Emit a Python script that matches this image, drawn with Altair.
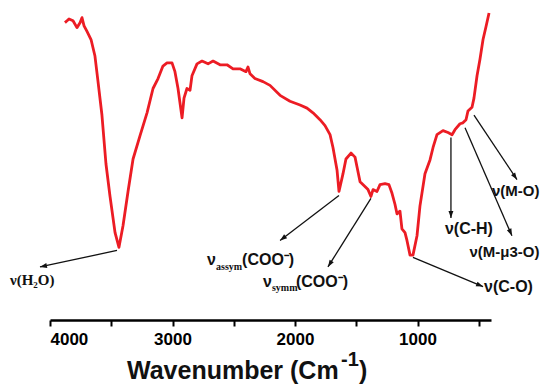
import math
import altair as alt
import pandas as pd

# ---- spectrum ----
wavenumber = [3878, 3861, 3845, 3812, 3780, 3755, 3739, 3722, 3698, 3665, 3633, 3608, 3576, 3543,
              3510, 3469, 3437, 3404, 3363, 3322, 3265, 3208, 3159, 3118, 3078, 3045, 3004, 2980,
              2955, 2922, 2906, 2882, 2857, 2841, 2800, 2759, 2710, 2669, 2612, 2555, 2506, 2449,
              2400, 2384, 2367, 2327, 2261, 2204, 2122, 2041, 1959, 1902, 1853, 1796, 1755, 1714,
              1690, 1657, 1641, 1608, 1584, 1543, 1510, 1494, 1469, 1429, 1404, 1380, 1363, 1331,
              1306, 1265, 1233, 1208, 1184, 1167, 1143, 1127, 1102, 1086, 1061, 1037, 1004, 980,
              939, 898, 873, 841, 792, 751, 718, 694, 653, 629, 604, 588, 555, 539, 514, 490,
              465, 441, 416]
transmittance = [95.3, 95.9, 96.5, 95.9, 93.7, 95.3, 96.9, 94.3, 92.5, 89.9, 84.6, 76.4, 65.7, 50.0,
                 39.6, 28.0, 23.3, 30.2, 41.2, 51.6, 59.1, 66.4, 74.2, 77.4, 81.4, 82.4, 82.4, 79.6,
                 74.2, 64.8, 71.1, 74.2, 73.6, 78.3, 82.1, 83.0, 82.1, 83.0, 81.8, 81.8, 80.5, 80.5,
                 79.6, 81.1, 78.9, 77.4, 76.4, 75.2, 72.0, 70.1, 68.9, 67.9, 66.4, 64.2, 62.3, 59.4,
                 55.3, 48.1, 41.2, 46.9, 51.6, 53.5, 52.2, 49.1, 44.3, 42.8, 41.8, 39.6, 41.8, 41.2,
                 43.4, 43.7, 43.4, 40.6, 37.1, 34.0, 34.9, 29.2, 28.0, 25.5, 20.8, 20.8, 27.0, 36.5,
                 46.9, 51.3, 55.3, 59.4, 60.7, 60.1, 59.4, 61.0, 62.9, 63.2, 64.2, 67.0, 68.2, 71.1,
                 78.3, 83.6, 89.9, 94.0, 98.4]

# ---- axis ----
x_domain = [4000, 400]
tick_values = [4000, 3500, 3000, 2500, 2000, 1500, 1000, 500]

# ---- annotation arrows (start on the band, tip at the label) ----
arrow_x1 = [3453, 1641, 1380, 1037, 727, 612, 539]
arrow_y1 = [22.3, 39.9, 39.0, 20.1, 58.5, 61.6, 65.7]
arrow_x2 = [4082, 2122, 1731, 465, 727, 229, 188]
arrow_y2 = [17.0, 25.5, 17.0, 10.7, 32.7, 27.0, 45.0]

# ---- annotation texts ----
sans_text = ["ν", "(COO⁻)", "ν", "(COO⁻)", "ν(C-O)", "ν(C-H)", "ν(M-μ3-O)", "ν(M-O)"]
sans_x = [2718, 2432, 2261, 1992, 457, 776, 576, 392]
sans_y = [19.2, 19.2, 12.3, 12.3, 10.7, 29.2, 21.7, 41.2]
sans_size = [16, 16, 16, 16, 16, 16, 15, 15]
serif_text = ["ν(H₂O)", "assym", "symm"]
serif_x = [4327, 2645, 2188]
serif_y = [12.9, 17.0, 10.2]
serif_size = [15, 10, 10]

W, H = 441, 312
SANS = "Liberation Sans"
SERIF = "Liberation Serif"

df = pd.DataFrame({"wn": wavenumber, "T": transmittance})

xs = alt.Scale(domain=x_domain, nice=False, zero=False)
ys = alt.Scale(domain=[0, 100], nice=False, zero=False)

kx = W / (x_domain[0] - x_domain[1])
ky = H / 100.0
angles = []
for a, b, c, d in zip(arrow_x1, arrow_y1, arrow_x2, arrow_y2):
    dx = -(c - a) * kx
    dy = -(d - b) * ky
    angles.append(math.degrees(math.atan2(dx, -dy)) % 360)
arrows = pd.DataFrame({"x1": arrow_x1, "y1": arrow_y1, "x2": arrow_x2, "y2": arrow_y2, "ang": angles})

line = alt.Chart(df).mark_line(color="#ec1c24", strokeWidth=2.8, strokeJoin="round").encode(
    x=alt.X("wn:Q", scale=xs, axis=alt.Axis(
        values=tick_values, format="d", title=None,
        labelExpr="datum.value % 1000 == 0 ? datum.label : ''")),
    y=alt.Y("T:Q", scale=ys, axis=None),
)

rules = alt.Chart(arrows).mark_rule(color="#111111", strokeWidth=1.3).encode(
    x=alt.X("x1:Q", scale=xs), x2="x2:Q",
    y=alt.Y("y1:Q", scale=ys), y2="y2:Q",
)

heads = alt.Chart(arrows).mark_point(
    shape="M0,0L-0.7,2L0.7,2Z", filled=True, color="#111111", opacity=1, size=49
).encode(
    x=alt.X("x2:Q", scale=xs), y=alt.Y("y2:Q", scale=ys),
    angle=alt.Angle("ang:Q", scale=None),
)

sans_df = pd.DataFrame({"t": sans_text, "x": sans_x, "y": sans_y, "s": sans_size})
sans_lbl = alt.Chart(sans_df).mark_text(
    align="left", baseline="middle", font=SANS, fontWeight="bold", color="#111111"
).encode(x=alt.X("x:Q", scale=xs), y=alt.Y("y:Q", scale=ys), text="t:N",
         size=alt.Size("s:Q", scale=None))

serif_df = pd.DataFrame({"t": serif_text, "x": serif_x, "y": serif_y, "s": serif_size})
serif_lbl = alt.Chart(serif_df).mark_text(
    align="left", baseline="middle", font=SERIF, fontWeight="bold", color="#111111"
).encode(x=alt.X("x:Q", scale=xs), y=alt.Y("y:Q", scale=ys), text="t:N",
         size=alt.Size("s:Q", scale=None))

one = pd.DataFrame({"a": [0]})
title_main = alt.Chart(one).mark_text(
    text="Wavenumber (Cm", align="left", baseline="alphabetic", font=SANS, fontWeight="bold",
    fontSize=25, color="#111111").encode(x=alt.value(77), y=alt.value(371))
title_sup = alt.Chart(one).mark_text(
    text="-1", align="left", baseline="alphabetic", font=SANS, fontWeight="bold",
    fontSize=20, color="#111111").encode(x=alt.value(291), y=alt.value(358))
title_close = alt.Chart(one).mark_text(
    text=")", align="left", baseline="alphabetic", font=SANS, fontWeight="bold",
    fontSize=25, color="#111111").encode(x=alt.value(309), y=alt.value(371))

chart = alt.layer(line, rules, heads, sans_lbl, serif_lbl, title_main, title_sup, title_close).properties(
    width=W, height=H, autosize="none",
    padding={"left": 42, "top": 0, "right": 57, "bottom": 64},
).configure_view(stroke=None).configure_axis(
    grid=False, domainColor="#000000", domainWidth=2.5, tickColor="#000000", tickWidth=2,
    tickSize=6, labelFont=SANS, labelFontSize=17, labelFontWeight="bold", labelColor="#000000",
    labelPadding=5,
)

chart.save("out.html", embed_options={"renderer": "svg", "actions": False})
